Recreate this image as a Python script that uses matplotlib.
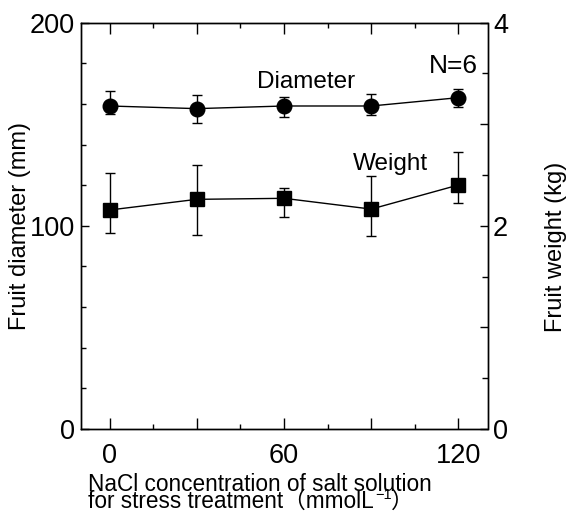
import matplotlib
matplotlib.use("Agg")
import matplotlib.pyplot as plt
from matplotlib.ticker import MultipleLocator, FuncFormatter

plt.rcParams['font.family'] = ['Liberation Sans', 'Noto Sans CJK JP', 'DejaVu Sans']

# NaCl concentration (mmol/L)
nacl = [0, 30, 60, 90, 120]

# Fruit diameter (mm): mean, lower and upper error
diameter = [159.0, 157.7, 159.0, 159.0, 163.1]
diam_err_lo = [3.9, 6.9, 5.3, 4.4, 4.7]
diam_err_hi = [7.4, 6.7, 4.3, 5.9, 4.1]

# Fruit weight (kg): mean, lower and upper error
weight = [2.156, 2.261, 2.271, 2.165, 2.402]
wt_err_lo = [0.227, 0.352, 0.187, 0.265, 0.181]
wt_err_hi = [0.367, 0.337, 0.098, 0.325, 0.321]

W, H = 570, 511
fig = plt.figure(figsize=(W / 100, H / 100), dpi=100)
ax = fig.add_axes([80.5 / W, 1 - 429 / H, (487.5 - 80.5) / W, (429 - 22.7) / H])
ax2 = ax.twinx()

ax.errorbar(nacl, diameter, yerr=[diam_err_lo, diam_err_hi], color='black',
            marker='o', markersize=10.5, linewidth=1.0, elinewidth=1.0,
            capsize=3.6, capthick=1.0, zorder=3)
ax2.errorbar(nacl, weight, yerr=[wt_err_lo, wt_err_hi], color='black',
             marker='s', markersize=9.5, linewidth=1.0, elinewidth=1.0,
             capsize=3.6, capthick=1.0, zorder=3)

ax.set_xlim(-10, 130)
ax.set_ylim(0, 200)
ax2.set_ylim(0, 4)

# x ticks: majors every 30, labels at 0/60/120, minors in between
ax.xaxis.set_major_locator(MultipleLocator(30))
ax.xaxis.set_minor_locator(MultipleLocator(15))
ax.xaxis.set_major_formatter(FuncFormatter(lambda v, p: f"{int(round(v))}" if int(round(v)) % 60 == 0 else ""))

ax.yaxis.set_major_locator(MultipleLocator(100))
ax.yaxis.set_minor_locator(MultipleLocator(20))
ax2.yaxis.set_major_locator(MultipleLocator(1))
ax2.yaxis.set_minor_locator(MultipleLocator(0.5))
ax2.yaxis.set_major_formatter(FuncFormatter(lambda v, p: f"{int(round(v))}" if int(round(v)) % 2 == 0 else ""))

tick_fs = 19.5
ax.tick_params(axis='x', which='both', direction='in', top=True, bottom=True,
               labelsize=tick_fs, pad=10, width=1.0)
ax.tick_params(axis='x', which='major', length=8)
ax.tick_params(axis='x', which='minor', length=3.6)
ax.tick_params(axis='y', which='both', direction='in', left=True, right=False,
               labelsize=tick_fs, pad=4, width=1.0)
ax.tick_params(axis='y', which='major', length=6)
ax.tick_params(axis='y', which='minor', length=3.3)
ax2.tick_params(axis='y', which='both', direction='in', right=True,
                labelsize=tick_fs, pad=4, width=1.0)
ax2.tick_params(axis='y', which='major', length=6)
ax2.tick_params(axis='y', which='minor', length=4.3)

for a in (ax, ax2):
    for s in a.spines.values():
        s.set_linewidth(1.0)

# Series annotations
ax.text(126.8, 175.2, "N=6", fontsize=19, ha='right', va='baseline')
ax.text(50.7, 167.9, "Diameter", fontsize=17.5, ha='left', va='baseline')
ax.text(83.8, 127.5, "Weight", fontsize=17.5, ha='left', va='baseline')

# Axis titles
fig.text(20 / W, 1 - 226 / H, "Fruit diameter (mm)", rotation=90,
         fontsize=17, ha='center', va='center')
fig.text(556 / W, 1 - 247 / H, "Fruit weight (kg)", rotation=90,
         fontsize=17, ha='center', va='center')

xl_fs = 16.3
x0 = 88 / W
fig.text(x0, 1 - 490.5 / H, "NaCl concentration of salt solution",
         fontsize=xl_fs, ha='left', va='baseline')
y2 = 1 - 507.5 / H
renderer = fig.canvas.get_renderer()
t_main = fig.text(x0, y2, "for stress treatment（mmolL", fontsize=xl_fs,
                  ha='left', va='baseline')
bb = t_main.get_window_extent(renderer)
t_sup = fig.text(bb.x1 / W + 1 / W, y2 + 9 / H, "−1", fontsize=10.5,
                 ha='left', va='baseline')
bb2 = t_sup.get_window_extent(renderer)
fig.text(bb2.x1 / W, y2, "）", fontsize=xl_fs, ha='left', va='baseline')

fig.savefig("out.png", dpi=100)
